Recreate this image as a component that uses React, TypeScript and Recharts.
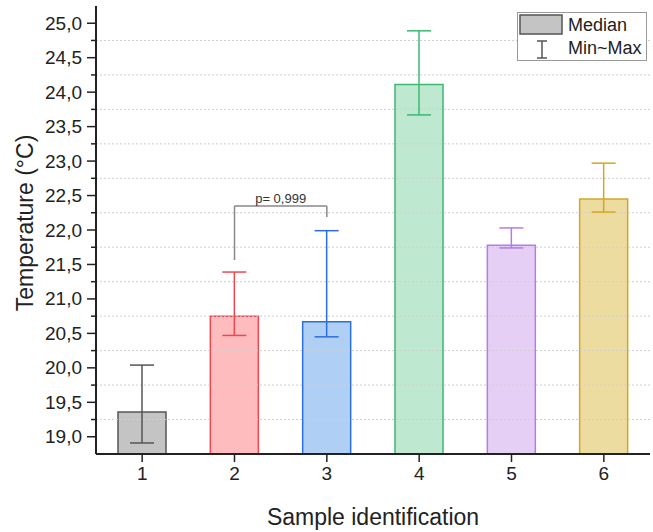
import React from 'react';
import {
  ComposedChart,
  Bar,
  Cell,
  XAxis,
  YAxis,
  ErrorBar,
  ReferenceLine,
  Legend
} from 'recharts';

const FONT = "Arial, 'Liberation Sans', sans-serif";

// values (temperature, ºC)
const samples = ['1', '2', '3', '4', '5', '6'];
const medians = [19.36, 20.75, 20.67, 24.11, 21.78, 22.45];
const minimums = [18.91, 20.47, 20.45, 23.67, 21.74, 22.26];
const maximums = [20.04, 21.39, 21.99, 24.89, 22.03, 22.97];

const fills = ['#c4c4c4', '#ffbcbf', '#b0cff5', '#bfe8d0', '#e6cff5', '#eddca0'];
const strokes = ['#555555', '#f0464f', '#2b6fdc', '#3db873', '#b57ce6', '#d4a626'];

const majorTicks = [19, 19.5, 20, 20.5, 21, 21.5, 22, 22.5, 23, 23.5, 24, 24.5, 25];
const minorTicks = [19.25, 19.75, 20.25, 20.75, 21.25, 21.75, 22.25, 22.75, 23.25, 23.75, 24.25, 24.75];
const allTicks = [...majorTicks, ...minorTicks].sort((a, b) => a - b);

// significance bracket between samples 2 and 3
const bracketTop = 22.35;
const bracketLeftEnd = 21.565;
const bracketRightEnd = 22.19;
const pLabel = 'p= 0,999';

const data = samples.map((name, i) => ({
  name,
  idx: i,
  median: medians[i],
  err: [medians[i] - minimums[i], maximums[i] - medians[i]]
}));

const fmt = (v: number) => v.toFixed(1).replace('.', ',');

const YTick = (props: any) => {
  const { x, y, payload } = props;
  const major = majorTicks.includes(payload.value);
  return (
    <g>
      <line x1={x - (major ? 9 : 5)} x2={x} y1={y} y2={y} stroke="#222" strokeWidth={1.5} />
      {major && (
        <text
          x={x - 14}
          y={y}
          textAnchor="end"
          dominantBaseline="central"
          fontSize={19}
          fontFamily={FONT}
          fill="#222"
        >
          {fmt(payload.value)}
        </text>
      )}
    </g>
  );
};

const YTitle = (props: any) => {
  const { viewBox } = props;
  const cx = viewBox.x + 25;
  const cy = viewBox.y + viewBox.height / 2 - 7;
  return (
    <text
      x={cx}
      y={cy}
      transform={`rotate(-90 ${cx} ${cy})`}
      textAnchor="middle"
      dominantBaseline="central"
      fontSize={23}
      fontFamily={FONT}
      fill="#222"
    >
      Temperature (°C)
    </text>
  );
};

const XTitle = (props: any) => {
  const { viewBox } = props;
  return (
    <text
      x={viewBox.x + viewBox.width / 2}
      y={viewBox.y + 63}
      textAnchor="middle"
      dominantBaseline="central"
      fontSize={23}
      fontFamily={FONT}
      fill="#222"
    >
      Sample identification
    </text>
  );
};

const LegendBox = () => (
  <div
    style={{
      width: 130,
      height: 49,
      boxSizing: 'border-box',
      border: '1px solid #999',
      background: '#fff',
      fontFamily: FONT
    }}
  >
    <svg width={128} height={47} style={{ display: 'block' }}>
      <rect x={2} y={2} width={42} height={19} fill={fills[0]} stroke={strokes[0]} strokeWidth={1.5} />
      <line x1={24} x2={24} y1={28} y2={45} stroke={strokes[0]} strokeWidth={1.5} />
      <line x1={19} x2={29} y1={28} y2={28} stroke={strokes[0]} strokeWidth={1.5} />
      <line x1={19} x2={29} y1={45} y2={45} stroke={strokes[0]} strokeWidth={1.5} />
      <text x={50} y={12} dominantBaseline="central" fontSize={18} fill="#222">Median</text>
      <text x={50} y={35} dominantBaseline="central" fontSize={18} fill="#222">Min~Max</text>
    </svg>
  </div>
);

export default function App() {
  return (
    <div style={{ position: 'absolute', left: 0, top: 0, background: '#fff' }}>
      <ComposedChart
        width={653}
        height={532}
        data={data}
        margin={{ top: 6, right: 3, bottom: 0, left: 0 }}
        barCategoryGap="24%"
      >
        <XAxis
          dataKey="name"
          height={78}
          interval={0}
          tickSize={8}
          tickMargin={5}
          tick={{ fontSize: 19, fill: '#222', fontFamily: FONT }}
          tickLine={{ stroke: '#222', strokeWidth: 1.5 }}
          axisLine={{ stroke: '#222', strokeWidth: 2 }}
          label={<XTitle />}
        />
        <XAxis
          xAxisId="top"
          orientation="top"
          dataKey="name"
          height={0}
          tick={false}
          tickLine={false}
          axisLine={{ stroke: '#222', strokeWidth: 2 }}
        />
        <YAxis
          type="number"
          domain={[18.75, 25.25]}
          allowDataOverflow
          ticks={allTicks}
          interval={0}
          width={96}
          tickSize={0}
          tickMargin={0}
          tickLine={false}
          tick={<YTick />}
          axisLine={{ stroke: '#222', strokeWidth: 2 }}
          label={<YTitle />}
        />
        <YAxis
          yAxisId="right"
          orientation="right"
          type="number"
          domain={[18.75, 25.25]}
          width={0}
          tick={false}
          tickLine={false}
          axisLine={{ stroke: '#222', strokeWidth: 2 }}
        />
        {minorTicks.map(v => (
          <ReferenceLine
            key={`g-${v}`}
            y={v}
            stroke="#cfcfcf"
            strokeWidth={1}
            strokeDasharray="2 2"
          />
        ))}
        <Bar dataKey="median" barSize={48} strokeWidth={1.5} isAnimationActive={false}>
          {data.map((d, i) => (
            <Cell key={`c-${i}`} fill={fills[i]} stroke={strokes[i]} />
          ))}
          {samples.map((_, i) => (
            <ErrorBar
              key={`e-${i}`}
              dataKey={(d: any) => (d.idx === i ? d.err : undefined)}
              direction="y"
              width={12}
              stroke={strokes[i]}
              strokeWidth={1.5}
              isAnimationActive={false}
            />
          ))}
        </Bar>
        <ReferenceLine
          segment={[{ x: '2', y: bracketLeftEnd }, { x: '2', y: bracketTop }]}
          stroke="#888"
          strokeWidth={1.5}
        />
        <ReferenceLine
          segment={[{ x: '2', y: bracketTop }, { x: '3', y: bracketTop }]}
          stroke="#888"
          strokeWidth={1.5}
          label={{ value: pLabel, position: 'top', offset: 3, fontSize: 13, fill: '#333', fontFamily: FONT }}
        />
        <ReferenceLine
          segment={[{ x: '3', y: bracketTop }, { x: '3', y: bracketRightEnd }]}
          stroke="#888"
          strokeWidth={1.5}
        />
        <Legend
          layout="vertical"
          align="center"
          verticalAlign="middle"
          content={<LegendBox />}
          wrapperStyle={{ left: 517, top: 12, width: 130, height: 49 }}
        />
      </ComposedChart>
    </div>
  );
}
